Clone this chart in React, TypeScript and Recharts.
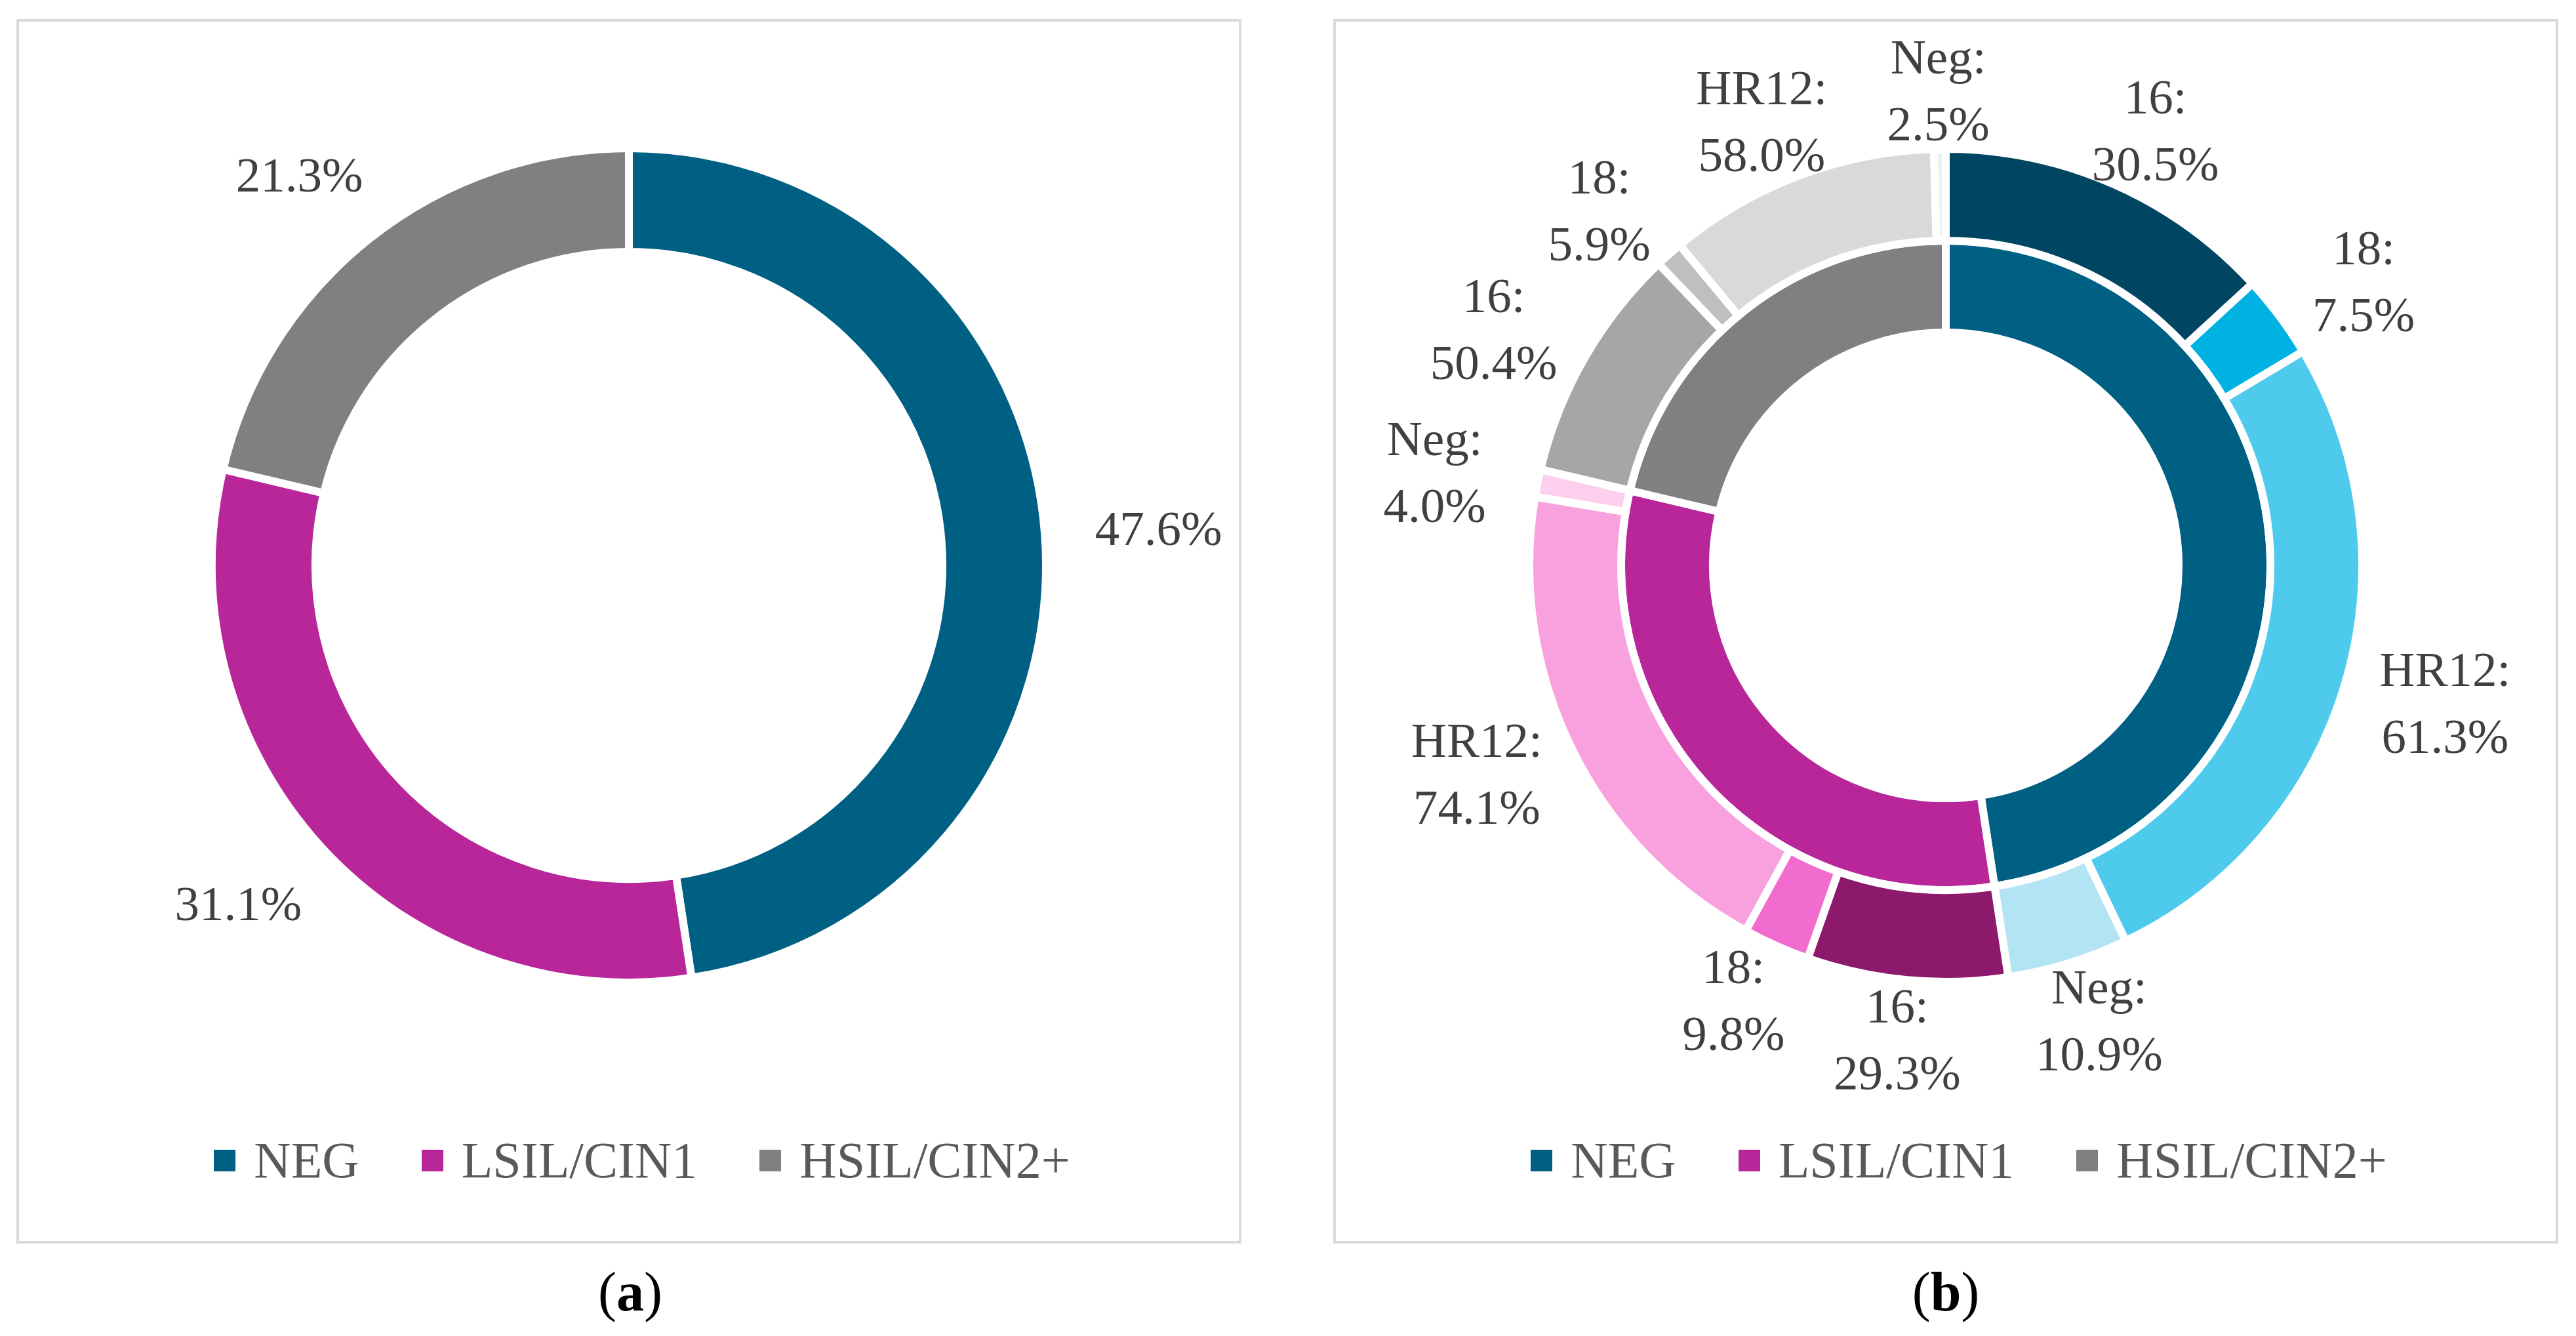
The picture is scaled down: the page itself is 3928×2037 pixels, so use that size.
import React from 'react';
import { PieChart, Pie, Cell, Legend } from 'recharts';

// top-level groups (inner ring / panel a)
const groupNames = ['NEG', 'LSIL/CIN1', 'HSIL/CIN2+'];
const groupShares = [47.6, 31.1, 21.3];
const groupColors = ['#006084', '#B8269A', '#808080'];

// HPV genotype breakdown per group (outer ring / panel b)
const subtypeNames = ['16', '18', 'HR12', 'Neg'];
const negSubtypes = [30.5, 7.5, 61.3, 10.9];
const lsilSubtypes = [29.3, 9.8, 74.1, 4.0];
const hsilSubtypes = [50.4, 5.9, 58.0, 2.5];
const negSubColors = ['#004561', '#00B2E2', '#4ECBEC', '#B3E4F4'];
const lsilSubColors = ['#8C196C', '#F26BCF', '#F9A0DE', '#FCCFEE'];
const hsilSubColors = ['#A6A6A6', '#BFBFBF', '#D9D9D9', '#EFEFEF'];

const captions = ['a', 'b'];

const FONT = '"Liberation Serif", "DejaVu Serif", serif';
const RAD = Math.PI / 180;

const innerData = groupNames.map((name, i) => ({ name, value: groupShares[i] }));
const subSets = [negSubtypes, lsilSubtypes, hsilSubtypes];
const subColors = [negSubColors, lsilSubColors, hsilSubColors];
// each group's slice of the outer ring is split in proportion to its subtype shares
const outerData = subSets.flatMap((vals, g) => {
  const total = vals.reduce((s, v) => s + v, 0);
  return vals.map((v, k) => ({ name: subtypeNames[k], pct: v, value: (groupShares[g] * v) / total }));
});
const outerColors = subColors.flat();

const singleLabel = (p: any) => {
  const a = -p.midAngle * RAD;
  const x = p.cx + 810 * Math.cos(a);
  const y = p.cy + 760 * Math.sin(a);
  return (
    <text x={x} y={y + 26} textAnchor="middle" fontFamily={FONT} fontSize={75} fill="#404040">
      {`${Number(p.value).toFixed(1)}%`}
    </text>
  );
};

const doubleLabel = (p: any) => {
  const a = -p.midAngle * RAD;
  const x = p.cx + 795 * Math.cos(a);
  const y = p.cy + 725 * Math.sin(a);
  const pct = p.pct ?? p.payload?.pct;
  const name = p.name ?? p.payload?.name;
  return (
    <text textAnchor="middle" fontFamily={FONT} fontSize={75} fill="#404040">
      <tspan x={x} y={y - 25}>{`${name}:`}</tspan>
      <tspan x={x} y={y + 77}>{`${Number(pct).toFixed(1)}%`}</tspan>
    </text>
  );
};

// legend shows the three cytology groups in their original order
const LegendBox = () => (
  <div
    style={{
      display: 'flex',
      justifyContent: 'center',
      alignItems: 'center',
      height: 100,
      lineHeight: '100px',
      fontFamily: FONT,
      fontSize: 78,
      color: '#595959',
      paddingLeft: 40,
    }}
  >
    {groupNames.map((n, i) => (
      <div key={n} style={{ display: 'flex', alignItems: 'center', marginRight: i < groupNames.length - 1 ? 95 : 0 }}>
        <span style={{ display: 'inline-block', width: 33, height: 33, background: groupColors[i], marginRight: 28 }} />
        <span>{n}</span>
      </div>
    ))}
  </div>
);

const W = 1860;
const H = 1859;
const CX = 930;
const CY = 829;

function Panel({ left, children }: { left: number; children: React.ReactNode }) {
  return (
    <div
      style={{
        position: 'absolute',
        left,
        top: 29,
        width: 1868,
        height: 1867,
        border: '4px solid #D9D9D9',
        boxSizing: 'border-box',
        background: '#fff',
      }}
    >
      {children}
    </div>
  );
}

export default function App() {
  return (
    <div style={{ position: 'absolute', left: 0, top: 0, width: 3928, height: 2037, background: '#fff' }}>
      <Panel left={25}>
        <PieChart width={W} height={H} margin={{ top: 0, right: 0, bottom: 0, left: 0 }}>
          <Pie
            data={innerData}
            dataKey="value"
            nameKey="name"
            cx={CX}
            cy={CY}
            innerRadius={478}
            outerRadius={636}
            startAngle={90}
            endAngle={-270}
            label={singleLabel}
            labelLine={false}
            isAnimationActive={false}
          >
            {innerData.map((d, i) => (
              <Cell key={d.name} fill={groupColors[i]} stroke="#fff" strokeWidth={12} />
            ))}
          </Pie>
          <Legend
            content={LegendBox}
            wrapperStyle={{ position: 'absolute', left: 0, top: 1686, width: W, height: 100 }}
          />
        </PieChart>
      </Panel>

      <Panel left={2033}>
        <PieChart width={W} height={H} margin={{ top: 0, right: 0, bottom: 0, left: 0 }}>
          <Pie
            data={innerData}
            dataKey="value"
            nameKey="name"
            cx={CX}
            cy={CY}
            innerRadius={355}
            outerRadius={495}
            startAngle={90}
            endAngle={-270}
            isAnimationActive={false}
          >
            {innerData.map((d, i) => (
              <Cell key={d.name} fill={groupColors[i]} stroke="#fff" strokeWidth={12} />
            ))}
          </Pie>
          <Pie
            data={outerData}
            dataKey="value"
            nameKey="name"
            cx={CX}
            cy={CY}
            innerRadius={495}
            outerRadius={635}
            startAngle={90}
            endAngle={-270}
            label={doubleLabel}
            labelLine={false}
            legendType="none"
            isAnimationActive={false}
          >
            {outerData.map((d, i) => (
              <Cell key={i} fill={outerColors[i]} stroke="#fff" strokeWidth={12} />
            ))}
          </Pie>
          <Legend
            content={LegendBox}
            wrapperStyle={{ position: 'absolute', left: 0, top: 1686, width: W, height: 100 }}
          />
        </PieChart>
      </Panel>

      <svg width={3928} height={2037} style={{ position: 'absolute', left: 0, top: 0, pointerEvents: 'none' }}>
        {captions.map((c, i) => (
          <text key={c} x={i === 0 ? 961 : 2967} y={1998} textAnchor="middle" fontFamily={FONT} fontSize={84} fill="#000">
            <tspan>(</tspan>
            <tspan fontWeight="bold">{c}</tspan>
            <tspan>)</tspan>
          </text>
        ))}
      </svg>
    </div>
  );
}
